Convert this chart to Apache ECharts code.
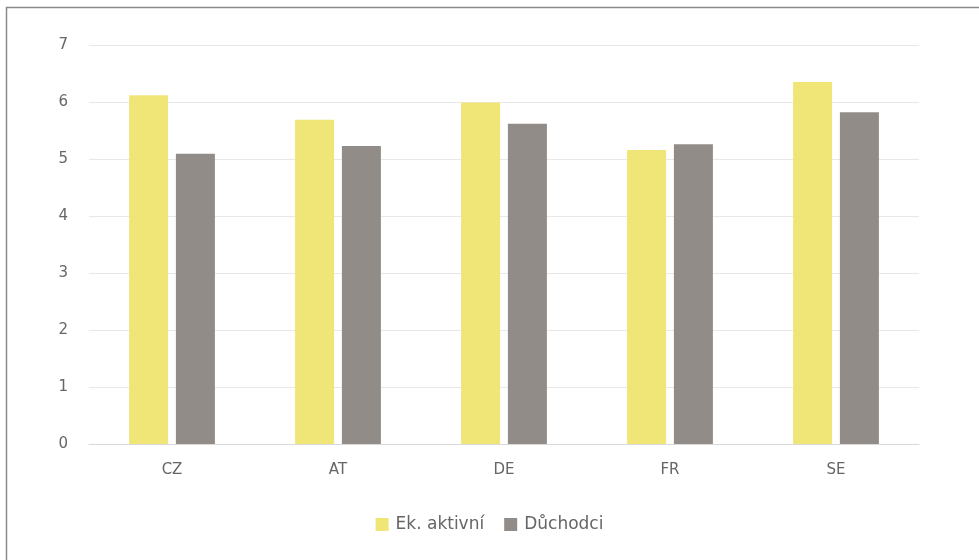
<!DOCTYPE html>
<html><head><meta charset="utf-8">
<script src="https://cdn.jsdelivr.net/npm/echarts@6/dist/echarts.min.js"></script>
<style>html,body{margin:0;padding:0;background:#fff}#c{width:979px;height:560px}</style>
</head><body><div id="c"></div>
<script>
const categories = ['CZ', 'AT', 'DE', 'FR', 'SE'];
const ekAktivni = [6.12, 5.69, 5.99, 5.16, 6.35];
const duchodci = [5.09, 5.23, 5.62, 5.26, 5.82];
const seriesNames = ['Ek. aktivní', 'Důchodci'];

const chart = echarts.init(document.getElementById('c'), null, {renderer: 'canvas'});
const font = '"DejaVu Sans", "Open Sans", sans-serif';
chart.setOption({
  animation: false,
  backgroundColor: '#fff',
  graphic: [{
    type: 'rect', shape: {x: 6.5, y: 7.5, width: 1000, height: 1000},
    style: {fill: 'none', stroke: '#8a8a8a', lineWidth: 1.5}, silent: true, z: -1
  }],
  grid: {left: 89, right: 60, top: 45, bottom: 116, containLabel: false},
  legend: {
    data: seriesNames, top: 511, left: 'center', itemWidth: 13, itemHeight: 13, itemGap: 20,
    icon: 'rect', textStyle: {color: '#666666', fontSize: 17, fontFamily: font, padding: [0, 0, 0, 2]}
  },
  xAxis: {
    type: 'category', data: categories,
    axisLine: {show: true, lineStyle: {color: '#d9d9d9', width: 1}},
    axisTick: {show: false},
    axisLabel: {color: '#666666', fontSize: 15, fontFamily: font, margin: 19}
  },
  yAxis: {
    type: 'value', min: 0, max: 7, interval: 1,
    axisLine: {show: false}, axisTick: {show: false},
    splitLine: {lineStyle: {color: '#e8e8e8', width: 1}},
    axisLabel: {color: '#666666', fontSize: 15, fontFamily: font, margin: 21}
  },
  series: [
    {name: seriesNames[0], type: 'bar', data: ekAktivni, barWidth: 39, barGap: '20%',
     itemStyle: {color: '#F0E678'}},
    {name: seriesNames[1], type: 'bar', data: duchodci, barWidth: 39, barGap: '20%',
     itemStyle: {color: '#928C88'}}
  ]
});
</script></body></html>
